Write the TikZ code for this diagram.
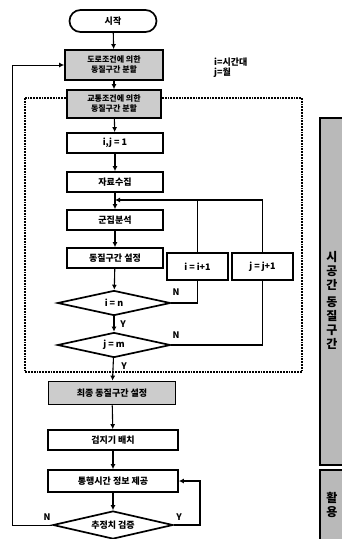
\documentclass[tikz,border=0pt]{standalone}
\usepackage{fontspec}
\setmainfont{Noto Sans CJK KR}
\usetikzlibrary{shapes.geometric,arrows.meta}
\tikzset{
  box/.style={draw=black,line width=1.7pt,fill=white,minimum width=96pt,minimum height=20pt,inner sep=1pt,font=\bfseries\fontsize{9}{10}\selectfont},
  graybox/.style={box,fill=gray!40},
  dec/.style={draw=black,line width=1.7pt,fill=white,diamond,aspect=4.5,inner sep=0pt,font=\bfseries\fontsize{9}{10}\selectfont},
  flow/.style={line width=1.1pt,-{Latex[length=5pt,width=5pt]}},
  plain/.style={line width=1.1pt},
  lab/.style={font=\bfseries\fontsize{9}{10}\selectfont,inner sep=0pt},
  dots/.style={line width=1.8pt,densely dotted},
  bar/.style={draw=black,line width=1.8pt,fill=gray!55}
}
\begin{document}
\begin{tikzpicture}[x=1pt,y=-1pt]
\useasboundingbox (0,0) rectangle (342,539);
% dotted frame
\draw[dots] (25,98) rectangle (302,372);
% right bars
\draw[bar] (320,118) rectangle (346,465);
\draw[bar] (320,470) rectangle (346,545);
\node[lab,font=\bfseries\fontsize{12}{14}\selectfont,align=center] (vt1) at (332,300) {시\\공\\간\\[3pt]동\\질\\구\\간};
\node[lab,font=\bfseries\fontsize{12}{14}\selectfont,align=center] (vt2) at (332,505) {활\\용};
% nodes
\node[draw=black,line width=1.7pt,rounded corners=11pt,minimum width=87pt,minimum height=22pt,font=\bfseries\fontsize{9}{10}\selectfont] (start) at (113,21) {시작};
\node[graybox,minimum width=98pt,minimum height=30pt,align=center,font=\bfseries\fontsize{8}{10}\selectfont] (b1) at (114,65) {도로조건에 의한\\동질구간 분할};
\node[graybox,minimum width=94pt,minimum height=28pt,align=center,font=\bfseries\fontsize{8}{10}\selectfont] (b2) at (114,104) {교통조건에 의한\\동질구간 분할};
\node[box] (b3) at (115,143) {i,j = 1};
\node[box] (b4) at (115,182) {자료수집};
\node[box] (b5) at (115,220) {군집분석};
\node[box] (b6) at (115,258) {동질구간 설정};
\node[box,minimum width=61pt,minimum height=27pt] (ii) at (197.5,266.5) {i = i+1};
\node[box,minimum width=61pt,minimum height=27pt] (jj) at (262.5,266.5) {j = j+1};
\node[dec,minimum width=113pt,minimum height=25pt] (d1) at (114,303) {i = n};
\node[dec,minimum width=113pt,minimum height=25pt] (d2) at (114,345) {j = m};
\node[graybox,minimum width=127pt,minimum height=23pt] (b7) at (112,393) {최종 동질구간 설정};
\node[box,minimum width=130pt] (b8) at (113,440) {검지기 배치};
\node[box,minimum width=130pt,minimum height=22pt] (b9) at (113,481) {통행시간 정보 제공};
\node[dec,minimum width=120pt,minimum height=28pt] (d3) at (113,525) {추정치 검증};
% legend
\node[lab,align=left,anchor=north west] (legend) at (214,58) {i=시간대\\j=월};
% labels
\node[lab] (n1) at (176,292) {N};
\node[lab] (y1) at (123,324) {Y};
\node[lab] (n2) at (176,335) {N};
\node[lab] (y2) at (124,366) {Y};
\node[lab] (n3) at (47,517) {N};
\node[lab] (y3) at (179,517) {Y};
% coordinates
\coordinate (m1) at (115,200);
\coordinate (ci) at (197.5,200);
% main flow
\draw[flow] (start) -- (b1);
\draw[flow] (b1) -- (b2);
\draw[flow] (b2) -- (b3);
\draw[flow] (b3) -- (b4);
\draw[flow] (b4) -- (b5);
\draw[flow] (b5) -- (b6);
\draw[flow] (b6) -- (d1);
\draw[flow] (d1) -- (d2);
\draw[flow] (d2) -- (b7);
\draw[flow] (b7) -- (b8);
\draw[flow] (b8) -- (b9);
\draw[flow] (b9) -- (d3);
% loops
\draw[plain] (d1.east) -| (ii.south);
\draw[plain] (d2.east) -| (jj.south);
\draw[plain] (ii.north) -- (ci);
\draw[flow] (jj.north) |- (m1);
\draw[flow] (d3.east) -| (200,481) -- (b9.east);
\draw[flow,line width=1pt] (d3.west) -| (12,65) -- (b1.west);
\end{tikzpicture}
\end{document}
